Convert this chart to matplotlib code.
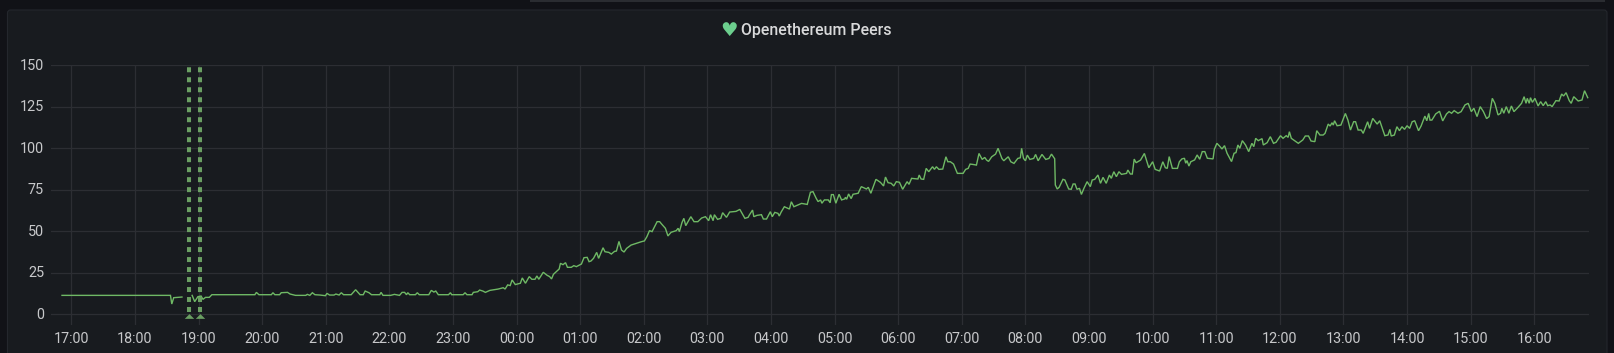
import numpy as np
import matplotlib
matplotlib.use("Agg")
import matplotlib.pyplot as plt
from matplotlib.patches import FancyBboxPatch, Rectangle
from matplotlib.path import Path
from matplotlib.transforms import IdentityTransform, ScaledTranslation

title = "Openethereum Peers"
tick_labels = ["17:00","18:00","19:00","20:00","21:00","22:00","23:00","00:00","01:00","02:00","03:00","04:00",
               "05:00","06:00","07:00","08:00","09:00","10:00","11:00","12:00","13:00","14:00","15:00","16:00"]
y_ticks = [0, 25, 50, 75, 100, 125, 150]
annotation_hours = [1.857, 2.024]

# (hours since 17:00, peers)
series_flat = [(-0.146,11.4),(1.559,11.4),(1.58,6.2),(1.61,10),(1.74,10.4),(1.80,np.nan),
 (1.90,11.4),(1.94,7.6),(1.99,10.6),(2.04,11),(2.07,9),(2.11,10.2),(2.17,10.2),(2.21,11.8),(2.886,11.8),(2.91,13.2),(2.95,11.8),
 (3.145,11.8),(3.17,13),(3.2,11.8),(3.275,11.8),(3.30,13),(3.40,13.2),(3.44,12.2),(3.525,11.4),(3.686,11.4),(3.71,12),(3.75,11.4),
 (3.79,13),(3.83,11.8),(3.91,11.6),(3.995,11.2),(4.02,12.6),(4.06,11.6),(4.13,11.6),(4.16,12.2),(4.21,11.6),(4.245,13),(4.28,11.8),
 (4.40,11.8),(4.47,14.8),(4.54,11.8),(4.59,11.8),(4.62,14),(4.68,13),(4.72,11.8),(4.85,11.8),(4.87,13.2),(4.90,11.4),(5.02,11.4),
 (5.08,12),(5.16,11.4),(5.20,13.2),(5.24,13.2),(5.27,11.8),(5.29,13),(5.32,11.8),(5.41,11.8),(5.44,13),(5.47,11.8),(5.62,11.8),
 (5.66,14.4),(5.70,13.4),(5.73,14),(5.77,11.8),(5.93,11.8),(5.96,13),(5.98,11.8),(6.16,11.8),(6.19,13),(6.22,11.8),(6.30,11.8),
 (6.32,13.2),(6.39,13.6)]
series_rise_a = [(6.42,14.6),(6.47,14.0),(6.51,13.2),(6.58,14.4),(6.71,15.2),(6.79,16.0),(6.82,15.2),(6.86,17.7),(6.90,17.3),(6.93,20.7),
 (6.98,17.9),(7.02,18.3),(7.06,18.7),(7.09,21.9),(7.14,18.7),(7.20,22.7),(7.24,21.1),(7.29,21.1),(7.32,23.1),(7.35,21.1),(7.42,25.3),
 (7.48,23.5),(7.52,22.7),(7.55,21.3),(7.58,24.1),(7.67,27.3),(7.69,30.7),(7.73,29.9),(7.77,31.1),(7.80,28.3),(7.86,28.3),(7.90,29.3),
 (7.94,28.7),(8.02,30.3),(8.06,34.1),(8.11,34.3),(8.14,31.7),(8.17,32.1),(8.21,33.7),(8.26,37.3),(8.29,33.7),(8.36,40.1),(8.39,37.7),
 (8.45,37.3),(8.49,36.3),(8.54,37.9),(8.57,38.1),(8.61,43.9),(8.65,38.7),(8.69,37.5),(8.73,39.7),(8.80,41.7),(8.88,42.7),(8.96,43.7),
 (9.01,44.2),(9.05,46.8),(9.09,50.4),(9.13,49.8),(9.21,55.8),(9.25,55.8),(9.28,54.4),(9.34,51.8),(9.38,47.2),(9.43,49.4),(9.51,50.4),
 (9.54,51.8),(9.56,49.8),(9.60,55.2),(9.63,57.8),(9.66,53.4),(9.74,58.8),(9.79,55.8),(9.85,55.8),(9.91,58),(9.97,58.8),(10.02,56.4),
 (10.05,60),(10.09,56.4),(10.11,60),(10.16,57.2),(10.21,57.8),(10.24,61.2),(10.30,58.4),(10.35,61.6),(10.45,62),(10.51,63.2),(10.59,57.8),(10.64,58.4)]
series_rise_b = [(10.66,59.8),(10.71,62.8),(10.73,58.8),(10.78,59.6),(10.85,60),(10.88,57.4),(10.93,57.4),(10.99,61.8),(11.02,58.8),(11.06,61.4),
 (11.11,60.8),(11.13,59.2),(11.16,61.6),(11.21,64.8),(11.29,63.4),(11.32,67.8),(11.36,64.8),(11.42,65.8),(11.48,66.8),(11.57,66.2),(11.62,73.5),
 (11.66,73.9),(11.71,69.9),(11.74,67.9),(11.78,68.9),(11.80,66.9),(11.84,68.9),(11.90,68.9),(11.93,67.2),(11.95,72.1),(11.98,72.1),(12.02,66.9),
 (12.07,72.3),(12.11,68.9),(12.16,69.5),(12.17,70.5),(12.19,69.3),(12.22,72.5),(12.26,69.7),(12.29,72.3),(12.37,72.9),(12.42,76.9),(12.50,75.5),
 (12.53,76.5),(12.57,72.9),(12.65,81.3),(12.72,79.5),(12.77,77.3),(12.80,82.7),(12.84,79.3),(12.89,78.9),(12.93,77.3),(12.97,79.9),(13.02,79.5),
 (13.07,75.3),(13.14,79.9),(13.17,78.3),(13.21,81.9),(13.31,81.5),(13.33,83.9),(13.36,81.5),(13.40,81.3),(13.44,87.9),(13.48,85.9),(13.54,88.9),
 (13.57,87.3),(13.60,88.9),(13.64,87.3),(13.70,87.5),(13.75,94.9),(13.78,91.9),(13.82,91.9),(13.87,90.5),(13.93,84.9),(14.02,84.9),(14.06,87.3),
 (14.10,87.9),(14.13,90.5),(14.17,90.3),(14.23,89.9),(14.27,96.9),(14.32,93.3),(14.36,94.5),(14.39,92.9),(14.42,92.1),(14.47,94.9),(14.53,96.5),
 (14.57,100),(14.63,93.9),(14.66,92.5),(14.73,94.9),(14.77,91.9),(14.82,90.9),(14.88,93.9),(14.92,94.3),(14.94,100),(14.97,93.9),(15.0,92.5),
 (15.03,95.9),(15.07,93.3),(15.13,93.9),(15.16,96.3),(15.20,92.5),(15.26,96.3),(15.32,93.3),(15.37,93.9),(15.41,96.5),(15.46,93.7)]
series_drop = [(15.47,77.9),(15.50,75.5),(15.53,76.5),(15.59,81.3),(15.62,80.9),(15.68,75.5),(15.72,75.3),(15.75,78.5),(15.78,78.5),(15.81,75.3),
 (15.85,75.9),(15.88,72.2),(15.92,75.9),(15.97,79.9),(16.02,76.9),(16.05,80.9),(16.09,81.3),(16.14,83.9),(16.18,78.9),(16.22,82.5),(16.27,78.9),
 (16.32,83.9),(16.35,81.9),(16.39,85.9),(16.43,82.9),(16.47,85.9),(16.51,84.3),(16.59,84.9),(16.61,86.9),(16.65,84.5),(16.68,84.5),(16.71,93.5),
 (16.74,91.3),(16.81,92.9),(16.87,96.9),(16.94,88.3),(17.0,91.9),(17.04,87.3),(17.11,86.3),(17.16,91.9),(17.20,88.3),(17.23,87.9),(17.26,95),
 (17.31,87.9),(17.39,87.9),(17.42,91.9),(17.46,93.6),(17.50,94),(17.52,91),(17.54,92.6),(17.57,89.3),(17.60,91.9),(17.66,93),(17.70,96),(17.74,93.4),
 (17.78,98),(17.82,98),(17.86,94),(17.95,93.6),(17.97,99.4),(18.01,103),(18.06,101),(18.09,99.6),(18.13,101.6),(18.17,97),(18.24,92),(18.28,97),
 (18.31,97.4),(18.34,102),(18.37,100),(18.41,104.6),(18.46,102),(18.51,98),(18.56,103),(18.59,101),(18.62,106),(18.66,104.6),(18.72,105.8),(18.74,102),
 (18.80,103.4),(18.85,107),(18.90,103),(18.94,103.6),(19.01,107.6),(19.05,106),(19.10,107.6),(19.13,106.6),(19.15,110),(19.18,106)]
series_end = [(19.24,104.4),(19.29,103),(19.36,105),(19.40,107.4),(19.45,107.4),(19.49,104.4),(19.55,104),(19.58,110.6),(19.63,108),(19.68,108),
 (19.71,109),(19.76,114.6),(19.79,113.4),(19.82,115.4),(19.84,114),(19.86,116.6),(19.90,113.6),(19.96,114),(20.03,121),(20.07,117),(20.11,111),
 (20.16,116),(20.19,116),(20.23,111),(20.28,111),(20.31,109),(20.38,116),(20.41,112),(20.46,118),(20.53,114.6),(20.57,116.6),(20.65,107.6),(20.70,108),
 (20.73,111.4),(20.75,107.4),(20.80,108),(20.84,113),(20.88,110.6),(20.92,113),(20.96,111.4),(21.0,113.6),(21.04,112),(21.08,116),(21.12,116.6),
 (21.18,110.6),(21.22,113.4),(21.28,119.4),(21.31,116.6),(21.34,121),(21.36,117),(21.39,117),(21.45,120.7),(21.51,122.3),(21.56,116.5),(21.62,120.7),
 (21.66,122.1),(21.70,121.1),(21.74,122.7),(21.80,121.1),(21.85,122.1),(21.91,126.1),(21.96,127.1),(22.01,122.1),(22.05,124.1),(22.10,119.1),(22.15,125.1),
 (22.20,122.1),(22.25,117.9),(22.29,119.1),(22.34,130.1),(22.38,127.1),(22.43,120.1),(22.47,121.1),(22.49,124.1),(22.52,121.1),(22.56,125.1),(22.60,121.1),
 (22.64,125.5),(22.68,122.1),(22.74,124.5),(22.80,127.1),(22.84,131.1),(22.87,127.1),(22.89,130.1),(22.92,127.1),(22.94,130.5),(22.97,127.7),(23.01,130.1),
 (23.06,125.5),(23.10,128.1),(23.14,125.7),(23.18,128.1),(23.21,125.7),(23.25,126.1),(23.28,125.1),(23.34,128.7),(23.39,128.5),(23.43,132.7),(23.46,131.5),
 (23.50,133.5),(23.55,128.7),(23.58,127.1),(23.62,131.1),(23.69,128.5),(23.75,129.1),(23.79,134.7),(23.84,130.5)]

W, H = 1615, 353
BG, PANEL, BORDER, GRID = "#111217", "#181b1f", "#24272d", "#2c2e33"
LINE, HEART, TEXT, TICK = "#6fb965", "#6ccf8e", "#d8d9da", "#c7c8ca"
ANNOT = "#6a9f62"

fig = plt.figure(figsize=(W/100, H/100), dpi=100, facecolor=BG)
idt = IdentityTransform()
fig.add_artist(FancyBboxPatch((7.5, -10), 1599.5, H-10+10, boxstyle="round,pad=0,rounding_size=3",
                              fc=PANEL, ec=BORDER, lw=0.8, transform=idt, zorder=-2))
fig.add_artist(Rectangle((530, H-1.5), 1075, 1.5, fc="#2a2c31", ec="none", transform=idt, zorder=-2))

L, R, T, B = 51.0, 1589.0, 65.3, 325.0
ax = fig.add_axes([L/W, 1-B/H, (R-L)/W, (B-T)/H], facecolor="none")
all_pts = series_flat + series_rise_a + series_rise_b + series_drop + series_end
hours = [p[0] for p in all_pts]
peers = [p[1] for p in all_pts]

ax.set_xlim(-0.319, 23.86)
ax.set_ylim(-6.45, 150)
ax.set_xticks(range(len(tick_labels)))
ax.set_xticklabels(tick_labels)
ax.set_yticks(y_ticks)
ax.grid(True, color=GRID, lw=0.9)
ax.set_axisbelow(True)
for s in ax.spines.values():
    s.set_visible(False)
ax.tick_params(length=0, colors=TICK, labelsize=10.4, pad=0, labelfontfamily="Roboto")
ax.tick_params(axis="x", pad=5.2)
ax.tick_params(axis="y", pad=5)
up = ScaledTranslation(0, 1/100, fig.dpi_scale_trans)
for lab in ax.get_yticklabels():
    lab.set_transform(lab.get_transform() + up)

ax.plot(hours, peers, color=LINE, lw=1.0, zorder=3, solid_joinstyle="miter")
for a in annotation_hours:
    ax.plot([a, a], [1.5, 150], color=ANNOT, lw=2.9, dashes=(1.24, 1.24), zorder=4)
wide_tri = Path([(-1, -0.5), (1, -0.5), (0, 0.5), (-1, -0.5)], closed=True)
ax.plot(annotation_hours, [-1.3, -1.3], ls="none", marker=wide_tri, ms=6.8, mfc=ANNOT, mec="none", zorder=5, clip_on=False)

fig.text(741.4/W, 1-30/H, title, color=TEXT, family="Roboto", weight=500, fontsize=11.4, ha="left", va="center")
fig.text(728.7/W, 1-30.5/H, "\u2665", color=HEART, family="DejaVu Sans", fontsize=14, ha="center", va="center")

fig.savefig("out.png", dpi=100, facecolor=BG)
